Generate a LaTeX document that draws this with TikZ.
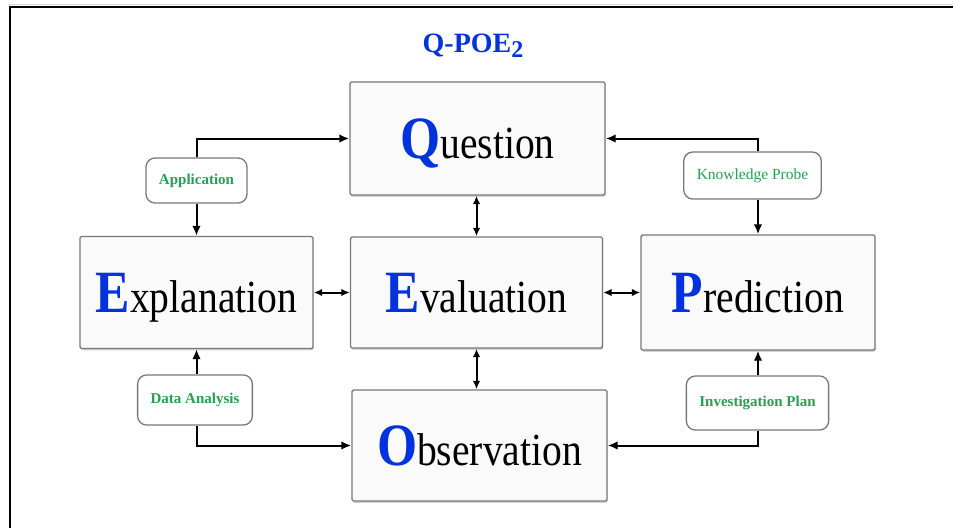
\documentclass[tikz,border=0pt]{standalone}
\usepackage{fontspec}
\setmainfont{Liberation Serif}
\usetikzlibrary{arrows.meta,shadows}

\definecolor{qblue}{RGB}{0,51,221}
\definecolor{lblgreen}{RGB}{38,160,80}
\definecolor{boxedge}{RGB}{120,120,120}
\definecolor{boxfill}{RGB}{250,250,250}

% stage label: large bold blue initial followed by the rest of the word
\newcommand{\stagetext}[2]{\scalebox{0.86}[1]{{\fontsize{60}{60}\selectfont\bfseries\color{qblue}#1}{\fontsize{46}{46}\selectfont #2}}}

\begin{document}
\begin{tikzpicture}[x=1pt,y=-1pt,
  stage/.style={draw=boxedge, fill=boxfill, line width=1.4pt, rounded corners=1.5pt,
    inner sep=0pt, text height=40pt, text depth=0pt,
    drop shadow={shadow xshift=0.6pt, shadow yshift=-1.8pt, opacity=0.35}},
  tag/.style={draw=boxedge, fill=white, line width=1.3pt, rounded corners=9pt,
    inner xsep=13pt, inner ysep=0pt, text=lblgreen,
    font=\fontsize{15}{15}\selectfont\bfseries},
  link/.style={line width=2pt, -{Latex[length=10pt,width=8.5pt]}},
  both/.style={line width=2pt, {Latex[length=8.5pt,width=7.5pt]}-{Latex[length=8.5pt,width=7.5pt]}}
]
\useasboundingbox (0,0) rectangle (953,528);

% page frame
\draw[black!15, line width=1pt] (9,4) -- (953,4);
\draw[line width=2pt] (10,528) -- (10,7) -- (953,7);

% title
\node[text=qblue, font=\fontsize{28}{28}\selectfont\bfseries] (title) at (473,46)
  {Q-POE\raisebox{-5pt}{\fontsize{24}{24}\selectfont 2}};

% stages
\node[stage, minimum width=255pt, minimum height=113pt] (Q) at (477.5,138.5) {\stagetext{Q}{uestion}};
\node[stage, minimum width=233pt, minimum height=112pt] (E) at (196.5,292.5) {\stagetext{E}{xplanation}};
\node[stage, minimum width=252pt, minimum height=111pt] (V) at (476.5,292.5) {\stagetext{E}{valuation}};
\node[stage, minimum width=234pt, minimum height=115pt] (P) at (758,292.5) {\stagetext{P}{rediction}};
\node[stage, minimum width=255pt, minimum height=111pt] (O) at (479.5,445.5) {\stagetext{O}{bservation}};

% transition tags
\node[tag, minimum height=45pt] (A) at (196.5,180.5) {Application};
\node[tag, minimum height=47pt, font=\fontsize{15.5}{15.5}\selectfont] (K) at (752.5,175.5) {Knowledge Probe};
\node[tag, minimum height=50pt] (D) at (195,400) {Data Analysis};
\node[tag, minimum height=54pt] (I) at (757.5,403) {Investigation Plan};

% tag connectors
\draw[link] (A.north) |- (Q.west);
\draw[link] (A.south) -- (E.north);
\draw[link] (K.north -| P.north) |- (Q.east);
\draw[link] (K.south -| P.north) -- (P.north);
\draw[link] (D.north -| E.south) -- (E.south);
\draw[link] (D.south -| E.south) |- (O.west);
\draw[link] (I.north -| P.south) -- (P.south);
\draw[link] (I.south -| P.south) |- (O.east);

% evaluation links
\draw[both] (Q.south -| V.north) -- (V.north);
\draw[both] (V.south) -- (O.north -| V.south);
\draw[both] (E.east) -- (V.west);
\draw[both] (V.east) -- (P.west);
\end{tikzpicture}
\end{document}
